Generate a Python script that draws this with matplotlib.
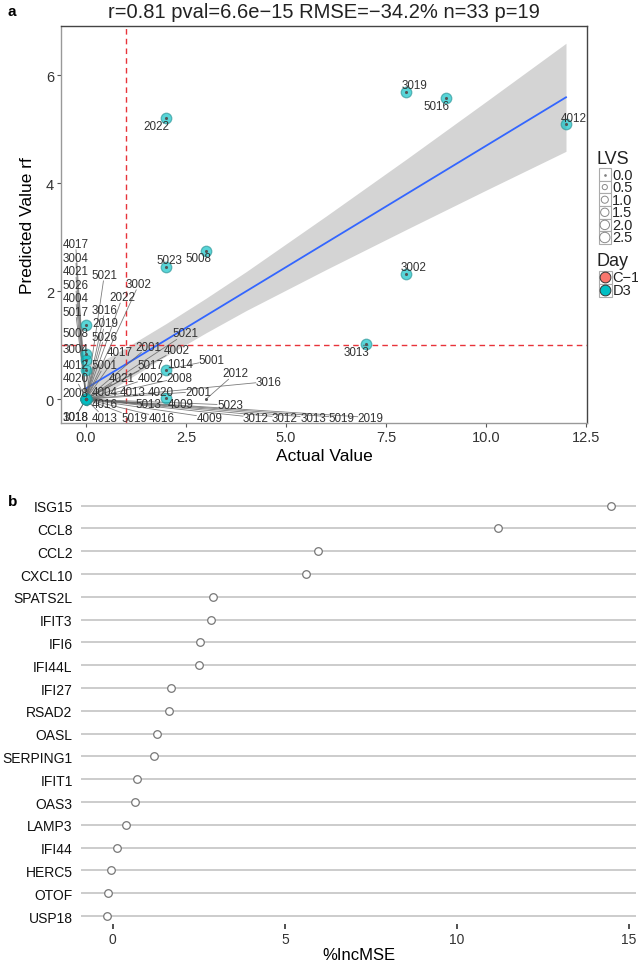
import matplotlib
matplotlib.use('Agg')
import matplotlib.pyplot as plt
import numpy as np
from matplotlib.patches import Rectangle

plt.rcParams['font.family'] = ['Liberation Sans', 'DejaVu Sans']

W, H = 638, 970

# ---------------- Panel a data ----------------
actual = [2, 8, 9, 12, 8, 7, 2, 3, 0, 0, 0, 0, 2, 2] + [0] * 18 + [3]
predicted = [5.2, 5.69, 5.57, 5.09, 2.32, 1.02, 2.45, 2.74, 1.37, 0.83, 0.72, 0.55, 0.55, 0.02] + [0] * 18 + [0]
day = ['D3'] * 14 + ['C-1'] * 9 + ['D3'] * 9 + ['NA']

# regression line and confidence band
fit_x = [0, 12]
fit_y = [0.2, 5.59]
band_x = [0, 1, 2, 3, 4, 6, 8, 10, 12]
band_lo = [-0.14, 0.345, 0.80, 1.23, 1.64, 2.40, 3.14, 3.87, 4.59]
band_hi = [0.54, 0.955, 1.40, 1.87, 2.36, 3.39, 4.44, 5.51, 6.59]

# repelled labels: text, label position, point it refers to
lab_text = ['4017', '3004', '4021', '5026', '4004', '5017', '5008', '3004', '4012', '4020', '2008', '3018', '1018',
            '5021', '3002', '2022', '3016', '2019', '5026', '4017', '5001', '2001', '4002', '5021', '5017',
            '1014', '5001', '4021', '4002', '2008', '2012', '3016', '4004', '4013', '4020', '2001',
            '4016', '5013', '4009', '5023', '4013', '5019', '4016', '4009', '3012', '3012', '3013', '5019', '2019',
            '2022', '3019', '5016', '4012', '3002', '3013', '5023', '5008']
lab_x = [-0.26, -0.26, -0.26, -0.26, -0.26, -0.26, -0.26, -0.26, -0.26, -0.26, -0.26, -0.26, -0.26,
         0.458, 1.325, 0.908, 0.475, 0.475, 0.458, 0.833, 0.458, 1.558, 2.275, 2.493, 1.6,
         2.358, 3.143, 0.893, 1.608, 2.343, 3.733, 4.568, 0.458, 1.168, 1.875, 2.808,
         0.475, 1.558, 2.368, 3.6, 0.458, 1.208, 1.893, 3.083, 4.25, 4.975, 5.675, 6.39, 7.118,
         1.75, 8.21, 8.77, 12.2, 8.19, 6.75, 2.08, 2.8]
lab_y = [2.876, 2.624, 2.365, 2.111, 1.865, 1.624, 1.235, 0.931, 0.630, 0.389, 0.124, -0.328, -0.328,
         2.302, 2.135, 1.889, 1.654, 1.407, 1.161, 0.883, 0.630, 0.976, 0.920, 1.217, 0.635,
         0.654, 0.722, 0.394, 0.402, 0.402, 0.481, 0.328, 0.143, 0.143, 0.143, 0.143,
         -0.093, -0.093, -0.093, -0.106, -0.339, -0.339, -0.339, -0.339, -0.339, -0.339, -0.339, -0.339, -0.339,
         5.06, 5.815, 5.42, 5.2, 2.45, 0.876, 2.574, 2.606]
lab_tx = [0, 0, 0, 0, 0, 0, 0, 0, 0, 0, 0, 0, 0,
          0, 0, 0, 0, 0, 0, 0, 0, 0, 0, 0, 0,
          2, 2, 0, 0, 0, 3, 0, 0, 0, 2, 0,
          0, 0, 2, 0, 0, 0, 0, 0, 0, 0, 0, 0, 0,
          2, 8, 9, 12, 8, 7, 2, 3]
lab_ty = [0, 0, 0, 0, 0, 0, 1.37, 0.83, 0.55, 0, 0, 0, 0,
          0, 0, 0, 0, 0, 0, 0, 0, 0, 0, 0, 0,
          0.55, 0.55, 0, 0, 0, 0, 0, 0, 0, 0.02, 0,
          0, 0, 0.02, 0, 0, 0, 0, 0, 0, 0, 0, 0, 0,
          5.2, 5.69, 5.57, 5.09, 2.32, 1.02, 2.45, 2.74]

title_a = 'r=0.81 pval=6.6e\u221215 RMSE=\u221234.2% n=33 p=19'
lvs_levels = ['0.0', '0.5', '1.0', '1.5', '2.0', '2.5']
day_levels = ['C\u22121', 'D3']

# ---------------- Panel b data ----------------
genes = ['ISG15', 'CCL8', 'CCL2', 'CXCL10', 'SPATS2L', 'IFIT3', 'IFI6', 'IFI44L', 'IFI27', 'RSAD2',
         'OASL', 'SERPING1', 'IFIT1', 'OAS3', 'LAMP3', 'IFI44', 'HERC5', 'OTOF', 'USP18']
incmse = [14.48, 11.18, 5.97, 5.61, 2.91, 2.87, 2.54, 2.51, 1.69, 1.63,
          1.30, 1.19, 0.72, 0.64, 0.38, 0.13, -0.05, -0.14, -0.17]

# ---------------- figure ----------------
fig = plt.figure(figsize=(W / 100, H / 100), dpi=100)


def fx(px):
    return px / W


def fy(py):
    return 1 - py / H


col_day = {'C-1': '#F8766D', 'D3': '#00BFC4'}

# Panel a
axA = fig.add_axes([fx(61), fy(424), fx(587) - fx(61), fy(27) - fy(424)])
axA.set_xlim(-0.625, 12.525)
axA.set_ylim(-0.44, 6.91)

axA.fill_between(band_x, band_lo, band_hi, color='#d4d4d4', lw=0, zorder=1)
axA.plot(fit_x, fit_y, color='#3366FF', lw=1.3, zorder=2)
axA.axvline(1, color='#E8333A', lw=1.0, ls=(0, (4, 3)), zorder=2)
axA.axhline(1, color='#E8333A', lw=1.0, ls=(0, (4, 3)), zorder=2)

# segments from labels to their points
fig.canvas.draw()
hw, hh = 13.0, 6.0  # half size of a label box in pixels
for t, lx, ly, tx, ty in zip(lab_text, lab_x, lab_y, lab_tx, lab_ty):
    p0 = axA.transData.transform((lx, ly))
    p1 = axA.transData.transform((tx, ty))
    d = p1 - p0
    if abs(d[0]) < hw + 4 and abs(d[1]) < hh + 4:
        continue
    s = min(hw / abs(d[0]) if d[0] != 0 else 1e9, hh / abs(d[1]) if d[1] != 0 else 1e9)
    start = p0 + s * d
    end = p1 - d / np.linalg.norm(d) * 2.0
    inv = axA.transData.inverted()
    a = inv.transform(start)
    b = inv.transform(end)
    axA.plot([a[0], b[0]], [a[1], b[1]], color='#666666', lw=0.6, alpha=0.85, zorder=3)

# points
for dd in ['C-1', 'D3']:
    xs = [x for x, g in zip(actual, day) if g == dd]
    ys = [y for y, g in zip(predicted, day) if g == dd]
    axA.scatter(xs, ys, s=58, facecolor=col_day[dd], alpha=0.65, edgecolor='#2b9597', lw=0.9, zorder=4)
axA.scatter(actual, predicted, s=1.5, color='#555555', zorder=5)

for t, lx, ly in zip(lab_text, lab_x, lab_y):
    axA.text(lx, ly, t, fontsize=8.4, color='#333333', ha='center', va='center', zorder=6)

axA.set_xticks([0, 2.5, 5, 7.5, 10, 12.5])
axA.set_xticklabels(['0.0', '2.5', '5.0', '7.5', '10.0', '12.5'])
axA.set_yticks([0, 2, 4, 6])
axA.tick_params(axis='both', labelsize=10.5, colors='#333333', length=3, width=0.8, color='#555555', pad=2)
for sp in ['left', 'bottom']:
    axA.spines[sp].set_color('#999999')
for sp in ['top', 'right']:
    axA.spines[sp].set_color('#444444')
for sp in axA.spines.values():
    sp.set_linewidth(1.0)
axA.set_xlabel('Actual Value', fontsize=12.5, labelpad=3)
axA.set_ylabel('Predicted Value rf', fontsize=12.5, labelpad=8)

fig.text(fx(324), fy(12), title_a, fontsize=14.5, ha='center', va='center', color='#222222')
fig.text(fx(8), fy(12), 'a', fontsize=11, fontweight='bold', ha='left', va='center')
fig.text(fx(8), fy(502), 'b', fontsize=11, fontweight='bold', ha='left', va='center')

# legend panel (pixel coordinates)
axL = fig.add_axes([fx(592), fy(300), fx(638) - fx(592), fy(150) - fy(300)])
axL.set_xlim(592, 638)
axL.set_ylim(300, 150)
axL.axis('off')
axL.text(597, 160, 'LVS', fontsize=13, ha='left', va='center', color='#222222')
lvs_sizes = [1.5, 14, 26, 36, 46, 56]
for i, (lab, sz) in enumerate(zip(lvs_levels, lvs_sizes)):
    yc = 175.5 + i * 12.6
    axL.add_patch(Rectangle((598.5, yc - 6.3), 12.6, 12.6, facecolor='white', edgecolor='#aaaaaa', lw=0.8))
    axL.scatter([604.8], [yc], s=sz, facecolor='none' if i > 0 else '#777777', edgecolor='#888888', lw=0.7)
    axL.text(612, yc, lab, fontsize=10.5, ha='left', va='center', color='#222222')
axL.text(597, 262, 'Day', fontsize=13, ha='left', va='center', color='#222222')
for i, (lab, key) in enumerate(zip(day_levels, ['C-1', 'D3'])):
    yc = 278 + i * 13
    axL.add_patch(Rectangle((598.5, yc - 6.5), 13, 13, facecolor='white', edgecolor='#aaaaaa', lw=0.8))
    axL.scatter([605], [yc], s=60, facecolor=col_day[key], edgecolor='#333333', lw=0.7)
    axL.text(612.5, yc, lab, fontsize=10.5, ha='left', va='center', color='#222222')

# Panel b
axB = fig.add_axes([fx(81), fy(925), fx(636) - fx(81), fy(493) - fy(925)])
ypos = np.arange(len(genes))
axB.set_ylim(len(genes) - 0.65, -0.6)
axB.set_xlim(-0.92, 15.2)
for y in ypos:
    axB.axhline(y, color='#c8c8c8', lw=1.3, zorder=1)
axB.scatter(incmse, ypos, s=30, facecolor='white', edgecolor='#777777', lw=0.9, zorder=3)
axB.set_yticks(ypos)
axB.set_yticklabels(genes)
axB.set_xticks([0, 5, 10, 15])
axB.tick_params(axis='y', length=0, labelsize=10, colors='#111111', pad=6)
axB.tick_params(axis='x', length=3.5, width=1.2, color='#333333', labelsize=10, labelcolor='#333333', pad=2)
for sp in axB.spines.values():
    sp.set_visible(False)
axB.set_xlabel('%IncMSE', fontsize=12, labelpad=1)

fig.savefig('out.png', dpi=100)
